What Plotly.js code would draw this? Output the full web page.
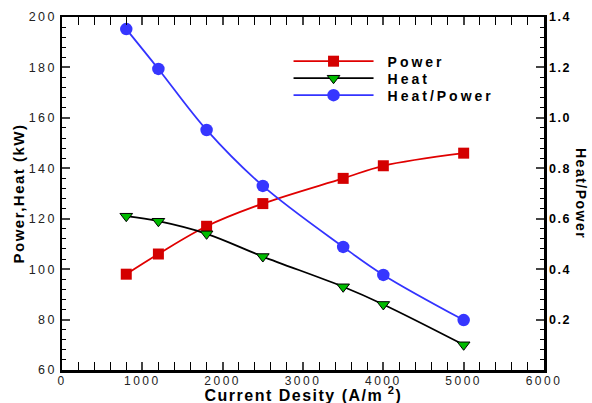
<!DOCTYPE html>
<html><head><meta charset="utf-8">
<script src="https://cdn.plot.ly/plotly-3.0.1.min.js"></script>
<style>body{margin:0;background:#fff}#plot{width:592px;height:403px}</style>
</head><body><div id="plot"></div>
<script>
const currentDensity = [800, 1200, 1800, 2500, 3500, 4000, 5000];
const power = [98, 106, 117, 126, 136, 141, 146];
const heat = [121, 119, 114, 105, 93, 86, 70];
const heatPowerRatio = [1.352, 1.194, 0.952, 0.730, 0.488, 0.377, 0.198];
const xTicks = [0, 1000, 2000, 3000, 4000, 5000, 6000];
const yTicks = [60, 80, 100, 120, 140, 160, 180, 200];
const y2Ticks = [0.2, 0.4, 0.6, 0.8, 1.0, 1.2, 1.4];

const FONT = 'Liberation Sans, Arial, sans-serif';
const traces = [
  {x: currentDensity, y: power, name: 'Power', mode: 'lines+markers',
   line: {color: '#e00000', width: 1.8, shape: 'spline'},
   marker: {symbol: 'square', size: 11, color: '#d40000'}},
  {x: currentDensity, y: heat, name: 'Heat', mode: 'lines+markers',
   line: {color: '#000000', width: 1.8, shape: 'spline'},
   marker: {symbol: 'triangle-down', size: 11, color: '#00bb00', line: {color: '#000', width: 1}}},
  {x: currentDensity, y: heatPowerRatio, name: 'Heat/Power', mode: 'lines+markers', yaxis: 'y2',
   line: {color: '#3333ff', width: 1.8, shape: 'spline'},
   marker: {symbol: 'circle', size: 12.5, color: '#3636ff'}}
];
const layout = {
  width: 592, height: 403,
  margin: {l: 62, r: 48, t: 17, b: 33},
  paper_bgcolor: '#fff', plot_bgcolor: '#fff',
  showlegend: true,
  legend: {x: 0.47, y: 0.919, xanchor: 'left', yanchor: 'top', bgcolor: 'rgba(0,0,0,0)',
           font: {family: FONT, size: 14, color: '#000', weight: 'bold'}, itemwidth: 80,
           tracegroupgap: 0},
  font: {family: FONT, color: '#000'},
  xaxis: {range: [0, 6000], tickvals: xTicks, ticks: 'inside', ticklen: 8, tickwidth: 2,
          minor: {dtick: 200, ticks: 'inside', ticklen: 4, tickwidth: 1, tickcolor: '#000'},
          showline: true, linewidth: 2.5, linecolor: '#000', mirror: 'allticks', showgrid: false, zeroline: false,
          tickfont: {size: 12, color: '#222'}},
  yaxis: {range: [60, 200], tickvals: yTicks, ticks: 'inside', ticklen: 8, tickwidth: 2,
          minor: {dtick: 4, ticks: 'inside', ticklen: 4, tickwidth: 1, tickcolor: '#000'},
          showline: true, linewidth: 2.5, linecolor: '#000', showgrid: false, zeroline: false,
          tickfont: {size: 12.5, color: '#222'},
          title: {text: 'Power,Heat (kW)', font: {size: 15, weight: 'bold'}, standoff: 8}},
  yaxis2: {range: [0, 1.4], overlaying: 'y', side: 'right', tickvals: y2Ticks, tickformat: '.1f',
          ticks: 'inside', ticklen: 8, tickwidth: 2,
          minor: {dtick: 0.04, ticks: 'inside', ticklen: 4, tickwidth: 1, tickcolor: '#000'},
          showline: true, linewidth: 2.5, linecolor: '#000', showgrid: false, zeroline: false,
          tickfont: {size: 12.5, color: '#000', weight: 'bold'}},
  annotations: [
    {text: 'Heat/Power', xref: 'paper', yref: 'paper', x: 1, y: 0.5, xanchor: 'center', yanchor: 'middle',
     xshift: 37, showarrow: false, textangle: 90, font: {family: FONT, size: 14, weight: 'bold'}},
    {text: 'Current Desity (A/m<sup> 2</sup>)', xref: 'paper', yref: 'paper', x: 0.5, y: 0,
     xanchor: 'center', yanchor: 'middle', yshift: -24, showarrow: false,
     font: {family: FONT, size: 16, weight: 'bold'}}
  ]
};
Plotly.newPlot('plot', traces, layout, {displayModeBar: false, staticPlot: true}).then(gd => {
  const ls = (sel, v) => gd.querySelectorAll(sel).forEach(t => t.style.letterSpacing = v);
  ls('.xtick text', '2.5px');
  ls('.ytick text', '2.5px');
  ls('.y2tick text', '1.5px');
  ls('.legendtext', '3px');
  ls('.annotation-text', '1.5px');
  ls('.ytitle', '1.5px');
  // x tick labels sit a little closer to the axis, as in the reference
  gd.querySelectorAll('.xtick text').forEach(t => {
    const y = parseFloat(t.getAttribute('y'));
    if (!isNaN(y)) t.setAttribute('y', y - 2);
  });
  // legend: no clipping, tighter rows and text offset like the reference
  gd.querySelectorAll('.legend [clip-path]').forEach(e => e.removeAttribute('clip-path'));
  gd.querySelectorAll('.legend .bg').forEach(e => e.setAttribute('width', 260));
  const items = gd.querySelectorAll('.legend .traces');
  let y0 = null;
  items.forEach((g, i) => {
    const m = /translate\(([-\d.]+)[ ,]+([-\d.]+)\)/.exec(g.getAttribute('transform'));
    if (!m) return;
    if (y0 === null) y0 = parseFloat(m[2]);
    g.setAttribute('transform', `translate(${m[1]},${y0 + i * 17})`);
    const t = g.querySelector('.legendtext');
    if (t) t.setAttribute('x', parseFloat(t.getAttribute('x')) + 9);
  });
});
</script></body></html>
